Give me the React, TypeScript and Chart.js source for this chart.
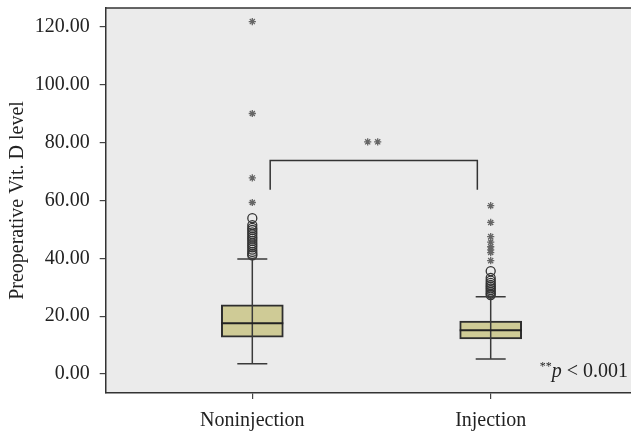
import React, { useEffect, useRef } from 'react';
import { Chart, registerables } from 'chart.js';

Chart.register(...registerables);

// ---------- data ----------
const groups = ['Noninjection', 'Injection'];
const groupX = [1, 2];
const q1 = [12.7, 12.1];
const median = [17.5, 15.1];
const q3 = [23.9, 18.3];
const whiskerLow = [3.5, 5.2];
const whiskerHigh = [39.8, 26.7];

const circlesNon = [41.0, 41.5, 42.2, 43.0, 43.8, 44.5, 45.2, 46.0, 46.8, 47.5, 48.3, 49.0, 49.8, 50.5, 51.5, 53.9];
const starsNon = [59.3, 67.8, 90.1, 121.9];
const circlesInj = [27.3, 27.8, 28.4, 29.0, 29.6, 30.2, 30.8, 31.5, 32.3, 33.2, 35.6];
const starsInj = [39.2, 42.0, 42.9, 44.0, 45.6, 47.5, 52.4, 58.2];

const yTicks = [0, 20, 40, 60, 80, 100, 120];
const yMin = -6.6;
const yMax = 126.6;
const xMin = 0.385;
const xMax = 2.615;

// significance bracket
const bracketX = [1.075, 1.944];
const bracketY = [63.7, 73.8];
const sigStarX = [1.484, 1.526];
const sigStarY = 80.3;
const pNoteX = 2.576;
const pNoteY = -0.93;

const FONT = "'Liberation Serif', 'DejaVu Serif', serif";

const boxPlugin = {
  id: 'boxplotExtras',
  beforeDraw(chart: any) {
    const { ctx, chartArea, width, height } = chart;
    ctx.save();
    ctx.fillStyle = '#ffffff';
    ctx.fillRect(0, 0, width, height);
    ctx.fillStyle = '#ebebeb';
    ctx.fillRect(chartArea.left, chartArea.top, chartArea.right - chartArea.left, chartArea.bottom - chartArea.top);
    ctx.restore();
  },
  afterDatasetsDraw(chart: any) {
    const { ctx } = chart;
    const xs = chart.scales.x;
    const ys = chart.scales.y;
    ctx.save();
    for (let i = 0; i < groupX.length; i++) {
      const cx = xs.getPixelForValue(groupX[i]);
      const yLo = ys.getPixelForValue(whiskerLow[i]);
      const yHi = ys.getPixelForValue(whiskerHigh[i]);
      const yMed = ys.getPixelForValue(median[i]);
      ctx.strokeStyle = '#3a3a3a';
      ctx.lineWidth = 1.5;
      ctx.beginPath();
      ctx.moveTo(cx, yLo);
      ctx.lineTo(cx, yHi);
      ctx.stroke();
      ctx.beginPath();
      ctx.moveTo(cx - 15, yLo);
      ctx.lineTo(cx + 15, yLo);
      ctx.moveTo(cx - 15, yHi);
      ctx.lineTo(cx + 15, yHi);
      ctx.stroke();
      ctx.strokeStyle = '#222';
      ctx.lineWidth = 2;
      ctx.beginPath();
      ctx.moveTo(cx - 31, yMed);
      ctx.lineTo(cx + 31, yMed);
      ctx.stroke();
    }
    const bx1 = xs.getPixelForValue(bracketX[0]);
    const bx2 = xs.getPixelForValue(bracketX[1]);
    const by1 = ys.getPixelForValue(bracketY[0]);
    const by2 = ys.getPixelForValue(bracketY[1]);
    ctx.strokeStyle = '#333';
    ctx.lineWidth = 1.5;
    ctx.beginPath();
    ctx.moveTo(bx1, by1);
    ctx.lineTo(bx1, by2);
    ctx.lineTo(bx2, by2);
    ctx.lineTo(bx2, by1);
    ctx.stroke();
    ctx.restore();
  },
  afterDraw(chart: any) {
    const { ctx, chartArea } = chart;
    const xs = chart.scales.x;
    const ys = chart.scales.y;
    ctx.save();
    ctx.strokeStyle = '#333';
    ctx.lineWidth = 1.5;
    ctx.beginPath();
    ctx.moveTo(chartArea.left, chartArea.top);
    ctx.lineTo(chartArea.right, chartArea.top);
    ctx.stroke();
    const right = xs.getPixelForValue(pNoteX);
    const base = ys.getPixelForValue(pNoteY);
    ctx.fillStyle = '#222';
    ctx.textBaseline = 'alphabetic';
    ctx.textAlign = 'left';
    const regFont = `20px ${FONT}`;
    const itFont = `italic 20px ${FONT}`;
    const supFont = `12px ${FONT}`;
    ctx.font = regFont;
    const wRest = ctx.measureText(' < 0.001').width;
    ctx.font = itFont;
    const wP = ctx.measureText('p').width;
    ctx.font = supFont;
    const wS = ctx.measureText('**').width;
    let x = right - wRest - wP - wS;
    ctx.font = supFont;
    ctx.fillText('**', x, base - 7);
    x += wS;
    ctx.font = itFont;
    ctx.fillText('p', x, base);
    x += wP;
    ctx.font = regFont;
    ctx.fillText(' < 0.001', x, base);
    ctx.restore();
  },
};

export default function App() {
  const ref = useRef<HTMLCanvasElement | null>(null);
  useEffect(() => {
    if (!ref.current) return;
    const circleStyle = {
      type: 'scatter' as const,
      pointStyle: 'circle',
      pointRadius: 4.5,
      pointBorderWidth: 1.3,
      pointBorderColor: '#333',
      pointBackgroundColor: 'rgba(0,0,0,0)',
      order: 1,
    };
    const starStyle = {
      type: 'scatter' as const,
      pointStyle: 'star',
      pointRadius: 3.6,
      pointBorderWidth: 1.3,
      pointBorderColor: '#666',
      pointBackgroundColor: '#666',
      order: 1,
    };
    const chart = new Chart(ref.current, {
      type: 'scatter',
      data: {
        datasets: [
          { ...circleStyle, label: 'Noninjection outliers', data: circlesNon.map((v) => ({ x: groupX[0], y: v })) },
          { ...starStyle, label: 'Noninjection extremes', data: starsNon.map((v) => ({ x: groupX[0], y: v })) },
          { ...circleStyle, label: 'Injection outliers', data: circlesInj.map((v) => ({ x: groupX[1], y: v })) },
          { ...starStyle, label: 'Injection extremes', data: starsInj.map((v) => ({ x: groupX[1], y: v })) },
          { ...starStyle, label: 'Significance', data: sigStarX.map((x) => ({ x, y: sigStarY })) },
          {
            type: 'bar' as const,
            label: 'Box',
            data: groupX.map((x, i) => ({ x, y: [q1[i], q3[i]] })) as any,
            backgroundColor: '#cfcb96',
            borderColor: '#2e2e2e',
            borderWidth: 2,
            borderSkipped: false,
            barThickness: 62,
            order: 2,
          } as any,
        ],
      },
      options: {
        animation: false,
        responsive: false,
        devicePixelRatio: 1,
        layout: { padding: { top: 8, left: 0, right: 7.7, bottom: 0 } },
        plugins: { legend: { display: false }, tooltip: { enabled: false } },
        scales: {
          x: {
            type: 'linear',
            position: 'bottom',
            offset: false,
            min: xMin,
            max: xMax,
            afterBuildTicks: (axis: any) => {
              axis.ticks = groupX.map((v) => ({ value: v }));
            },
            afterFit: (axis: any) => {
              axis.height = 40;
              axis.paddingLeft = 0;
              axis.paddingRight = 0;
            },
            ticks: {
              callback: (v: any) => {
                const i = groupX.indexOf(Number(v));
                return i >= 0 ? groups[i] : '';
              },
              color: '#222',
              font: { family: FONT, size: 20 },
              padding: 10,
              maxRotation: 0,
              autoSkip: false,
            },
            grid: { offset: false, drawOnChartArea: false, drawTicks: true, tickLength: 6, color: '#444', lineWidth: 1.2 },
            border: { display: true, color: '#333', width: 1.5 },
          },
          y: {
            type: 'linear',
            min: yMin,
            max: yMax,
            afterBuildTicks: (axis: any) => {
              axis.ticks = yTicks.map((v) => ({ value: v }));
            },
            afterFit: (axis: any) => {
              axis.width = 105.7;
              axis.paddingTop = 0;
              axis.paddingBottom = 0;
            },
            ticks: {
              callback: (v: any) => Number(v).toFixed(2),
              color: '#222',
              font: { family: FONT, size: 20 },
              padding: 10,
            },
            grid: { drawOnChartArea: false, drawTicks: true, tickLength: 6, color: '#444', lineWidth: 1.2 },
            border: { display: true, color: '#333', width: 1.5 },
            title: {
              display: true,
              text: 'Preoperative Vit. D level',
              color: '#222',
              font: { family: FONT, size: 20 },
              padding: { top: 6, bottom: 0 },
            },
          },
        },
      },
      plugins: [boxPlugin],
    });
    return () => chart.destroy();
  }, []);

  return (
    <div style={{ position: 'fixed', left: 0, top: 0, width: 631, height: 433, overflow: 'hidden', background: '#fff' }}>
      <canvas ref={ref} width={645} height={433} style={{ display: 'block', width: 645, height: 433 }} />
    </div>
  );
}
